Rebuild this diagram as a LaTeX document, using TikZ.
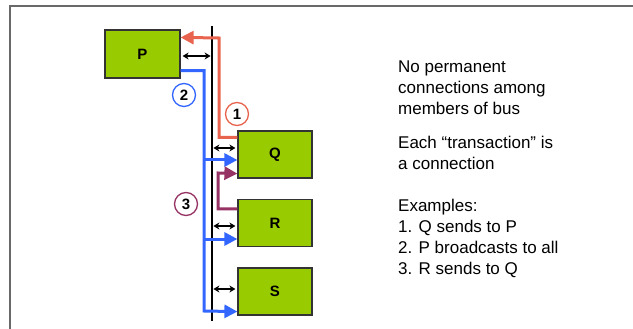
\documentclass[tikz,border=0pt]{standalone}
\usepackage{fontspec}
\setmainfont{Liberation Sans}
\usetikzlibrary{arrows.meta}

\definecolor{boxgreen}{RGB}{153,204,0}
\definecolor{sendred}{RGB}{232,100,78}
\definecolor{castblue}{RGB}{51,102,255}
\definecolor{replypurple}{RGB}{150,50,100}
\definecolor{framegray}{RGB}{105,105,105}

\begin{document}
\begin{tikzpicture}[x=1pt, y=-1pt,
    member/.style={draw=black!80, line width=1.2pt, fill=boxgreen, inner sep=0pt,
        minimum width=74pt, minimum height=47pt, font=\bfseries\fontsize{15}{17}\selectfont},
    tag/.style={circle, line width=1.3pt, fill=white, inner sep=0pt,
        minimum size=23pt, font=\bfseries\fontsize{15}{17}\selectfont},
    link/.style={line width=3pt},
    linkhead/.style={-{Triangle[length=13pt,width=13pt]}},
    duplex/.style={line width=1.5pt, {Stealth[length=6pt,width=7pt]}-{Stealth[length=6pt,width=7pt]}},
    note/.style={anchor=north west, inner sep=0pt, align=left, font=\fontsize{17}{21}\selectfont}]
    \useasboundingbox (0,0) rectangle (633,329);

    % frame
    \draw[framegray, line width=1.3pt] (10,329) -- (10,6) -- (633,6);

    % bus members
    \node[member, minimum width=75pt, minimum height=48pt] (P) at (142.5,54) {P};
    \node[member] (Q) at (275,154.5) {Q};
    \node[member] (R) at (275,223) {R};
    \node[member] (S) at (275,291.5) {S};

    % the bus itself
    \coordinate (bustop) at (212,26);
    \coordinate (busbot) at (212,321);
    \draw[line width=2pt] (bustop) -- (busbot);

    % bus taps
    \draw[duplex] ([shift={(2,2)}]P.east) -- ++(28,0);
    \draw[duplex] ([shift={(-2,-6.5)}]Q.west) -- ++(-22,0);
    \draw[duplex] ([shift={(-2,3)}]R.west) -- ++(-22,0);
    \draw[duplex] ([shift={(-2,-2.5)}]S.west) -- ++(-22,0);

    % 1. Q sends to P
    \draw[link, sendred, linkhead] ([yshift=-7pt]Q.north west) -| (219,38)
        -- ([yshift=-8pt]P.north east);

    % 2. P broadcasts to all
    \draw[link, castblue, linkhead] ([yshift=8pt]P.south east) -| (204,311)
        -- ([yshift=4pt]S.south west);
    \draw[link, castblue, linkhead] (204,160) -- ([yshift=-5.5pt]Q.west);
    \draw[link, castblue, linkhead] (204,239) -- ([yshift=-16pt]R.west);

    % 3. R sends to Q
    \draw[link, replypurple, linkhead] ([yshift=-10pt]R.north west) -| (218,173)
        -- ([yshift=5pt]Q.south west);

    % Transaction numbers
    \node[tag, draw=sendred] (one) at (237,114) {1};
    \node[tag, draw=castblue] (two) at (184,95) {2};
    \node[tag, draw=replypurple] (three) at (186,204) {3};

    % Notes
    \node[note] (notea) at (398,61) {No permanent\\connections among\\members of bus};
    \node[note] (noteb) at (398,136) {Each “transaction” is\\a connection};
    \node[note] (notec) at (398,199) {Examples:\\1. Q sends to P\\2. P broadcasts to all\\3. R sends to Q};
\end{tikzpicture}
\end{document}
